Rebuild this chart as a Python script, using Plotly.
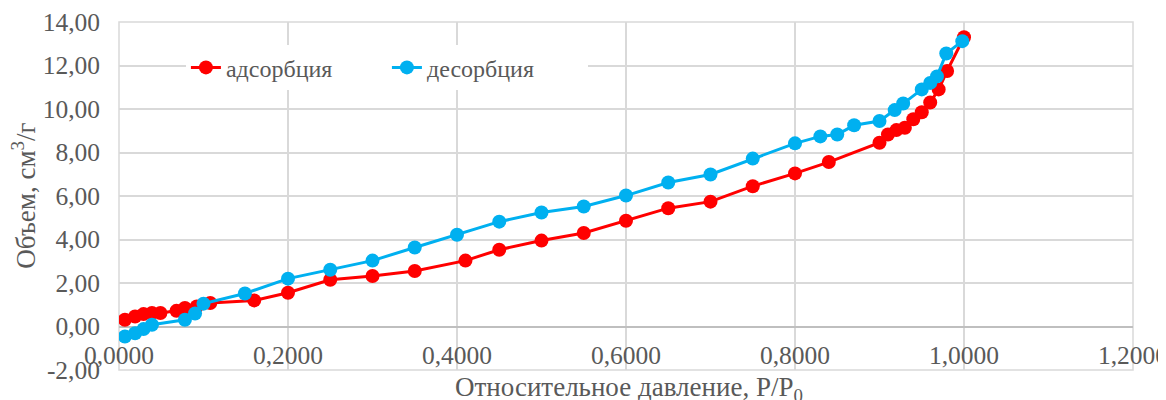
import plotly.graph_objects as go

# Adsorption (red)
ads_x = [0.007, 0.019, 0.029, 0.039, 0.049, 0.068, 0.078, 0.092, 0.108, 0.16,
         0.20, 0.25, 0.30, 0.35, 0.41, 0.45, 0.50, 0.55, 0.60, 0.65, 0.70, 0.75,
         0.80, 0.84, 0.90, 0.91, 0.92, 0.93, 0.94, 0.95, 0.96, 0.97, 0.98, 1.00]
ads_y = [0.31, 0.46, 0.57, 0.62, 0.62, 0.72, 0.85, 0.92, 1.08, 1.20,
         1.55, 2.15, 2.32, 2.55, 3.03, 3.53, 3.95, 4.30, 4.86, 5.44, 5.74, 6.45,
         7.04, 7.56, 8.45, 8.83, 9.03, 9.14, 9.53, 9.85, 10.30, 10.90, 11.75, 13.30]

# Desorption (blue)
des_x = [0.007, 0.019, 0.029, 0.039, 0.078, 0.090, 0.100, 0.149, 0.20, 0.25,
         0.30, 0.35, 0.40, 0.45, 0.50, 0.55, 0.60, 0.65, 0.70, 0.75, 0.80,
         0.83, 0.85, 0.87, 0.90, 0.918, 0.928, 0.95, 0.96, 0.968, 0.979, 0.998]
des_y = [-0.46, -0.31, -0.12, 0.08, 0.31, 0.60, 1.05, 1.52, 2.20, 2.61,
         3.03, 3.63, 4.22, 4.82, 5.24, 5.52, 6.02, 6.62, 6.99, 7.72, 8.42,
         8.74, 8.83, 9.25, 9.45, 9.95, 10.25, 10.90, 11.20, 11.50, 12.55, 13.12]

y_tickvals = [-2, 0, 2, 4, 6, 8, 10, 12, 14]
y_ticktext = ["-2,00", "0,00", "2,00", "4,00", "6,00", "8,00", "10,00", "12,00", "14,00"]

FONT = "Liberation Serif"
TXT = "#595959"
GRID = "#D9D9D9"
TICK_SIZE = 25.5
TITLE_SIZE = 27
LEG_SIZE = 24

fig = go.Figure()
fig.add_trace(go.Scatter(x=ads_x, y=ads_y, mode="lines+markers", name="адсорбция",
                         line=dict(color="#FF0000", width=3),
                         marker=dict(color="#FF0000", size=14)))
fig.add_trace(go.Scatter(x=des_x, y=des_y, mode="lines+markers", name="десорбция",
                         line=dict(color="#00B0F0", width=3),
                         marker=dict(color="#00B0F0", size=14)))

fig.update_layout(
    width=1158, height=392,
    margin=dict(l=111, r=33, t=14, b=30),
    paper_bgcolor="white", plot_bgcolor="white",
    separators=", ",
    font=dict(family=FONT, size=TICK_SIZE, color=TXT),
    showlegend=True,
    legend=dict(orientation="h", x=0.066, y=0.933, xanchor="left", yanchor="top",
                bgcolor="white", font=dict(family=FONT, size=LEG_SIZE, color=TXT),
                entrywidth=156, entrywidthmode="pixels"),
    xaxis=dict(range=[0, 1.2], dtick=0.2, tick0=0, tickformat=".4f",
               showgrid=True, gridcolor=GRID, gridwidth=1.5,
               zeroline=False, showline=False, anchor="free", position=0.125,
               ticks="", ticklabelstandoff=11, automargin=False,
               ticklabeloverflow="allow",
               tickfont=dict(family=FONT, size=TICK_SIZE, color=TXT)),
    yaxis=dict(range=[-2, 14], tickvals=y_tickvals, ticktext=y_ticktext,
               showgrid=True, gridcolor=GRID, gridwidth=1.5,
               zeroline=True, zerolinecolor="#BFBFBF", zerolinewidth=1.5,
               showline=False, ticks="", ticklabelstandoff=18, automargin=False,
               ticklabeloverflow="allow",
               tickfont=dict(family=FONT, size=TICK_SIZE, color=TXT)),
    shapes=[dict(type="rect", xref="paper", yref="paper", x0=0, x1=1, y0=0, y1=1,
                 line=dict(color=GRID, width=1.5), layer="below")],
    annotations=[
        dict(text="Объем, см<sup>3</sup>/г", xref="paper", yref="paper",
             x=-0.094, y=0.5, xanchor="center", yanchor="middle", textangle=-90,
             showarrow=False, font=dict(family=FONT, size=TITLE_SIZE, color=TXT)),
        dict(text="Относительное давление, P/P<sub>0</sub>", xref="paper", yref="paper",
             x=0.503, y=-0.056, xanchor="center", yanchor="middle",
             showarrow=False, font=dict(family=FONT, size=TITLE_SIZE, color=TXT)),
    ],
)

fig.write_html("out.html")
